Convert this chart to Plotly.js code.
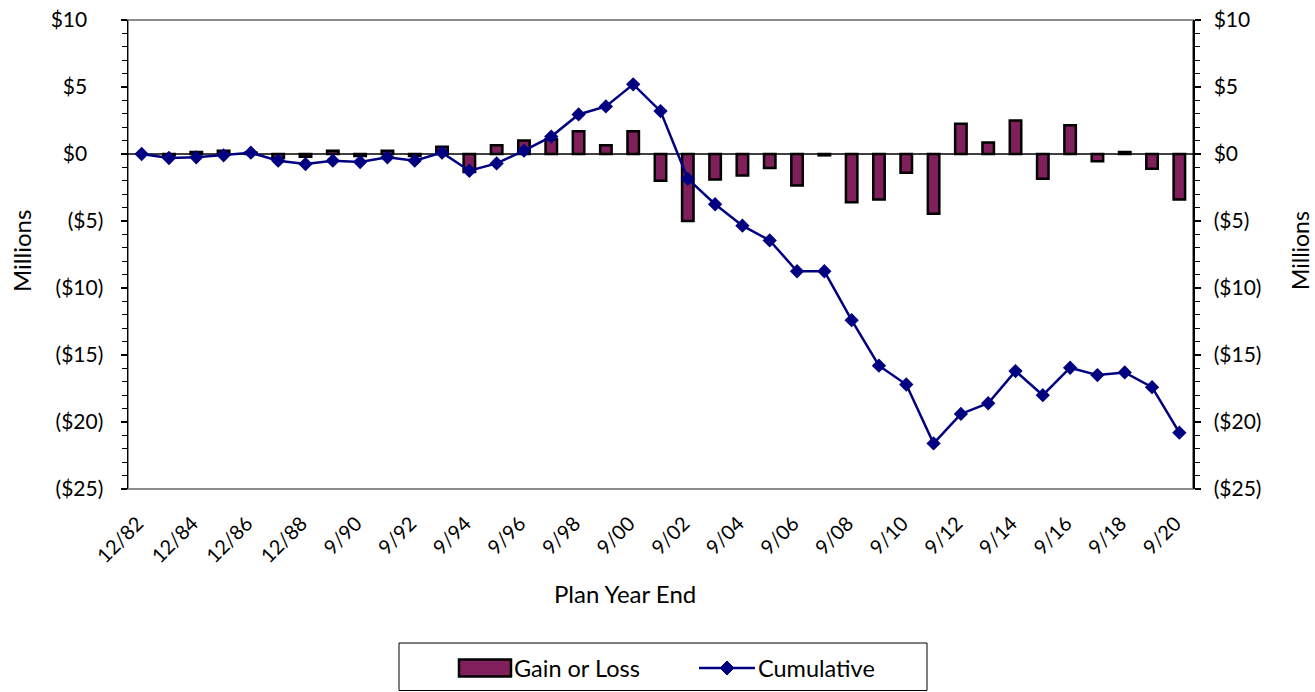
<!DOCTYPE html>
<html>
<head>
<meta charset="utf-8">
<script src="https://cdn.plot.ly/plotly-3.0.1.min.js"></script>
<style>
  html, body { margin: 0; padding: 0; background: #fff; }
  #chart { width: 1315px; height: 692px; }
</style>
</head>
<body>
<div id="chart"></div>
<script>
// Plan year ends
const categories = [
  '12/82','12/83','12/84','12/85','12/86','12/87','12/88','12/89',
  '9/90','9/91','9/92','9/93','9/94','9/95','9/96','9/97','9/98','9/99',
  '9/00','9/01','9/02','9/03','9/04','9/05','9/06','9/07','9/08','9/09',
  '9/10','9/11','9/12','9/13','9/14','9/15','9/16','9/17','9/18','9/19','9/20'
];

// Annual gain or loss, $ millions
const gainLoss = [
  0, -0.1, 0.15, 0.25, 0.1, -0.3, -0.2, 0.25, -0.15, 0.25,
  -0.15, 0.55, -1.35, 0.65, 1.0, 1.1, 1.7, 0.65, 1.7, -2.0,
  -5.0, -1.9, -1.6, -1.05, -2.35, -0.1, -3.6, -3.4, -1.4, -4.45,
  2.25, 0.85, 2.5, -1.85, 2.15, -0.55, 0.15, -1.1, -3.4
];

// Cumulative gain or loss, $ millions
const cumulative = [
  0, -0.3, -0.25, -0.1, 0.1, -0.5, -0.75, -0.5, -0.6, -0.25,
  -0.5, 0.1, -1.25, -0.7, 0.25, 1.3, 2.95, 3.55, 5.2, 3.2,
  -1.85, -3.75, -5.35, -6.45, -8.75, -8.75, -12.4, -15.8, -17.2, -21.6,
  -19.4, -18.6, -16.2, -18.0, -15.95, -16.5, -16.3, -17.4, -20.8
];

// Value axis ticks (accounting style: positives padded on the right)
const PAD = '\u00a0\u00a0\u00a0';
const yTickVals = [10, 5, 0, -5, -10, -15, -20, -25];
const yTickText = ['$10' + PAD, '$5' + PAD, '$0' + PAD, '($5)', '($10)', '($15)', '($20)', '($25)'];

// Every other plan year gets a label
const xTickVals = categories.filter((c, i) => i % 2 === 0);

const FONT = 'Lato, Carlito, "Open Sans", sans-serif';
const BAR_FILL = '#7F1F5B';
const LINE_COLOR = '#000080';

// plot area in page pixels, used to place the legend box and titles
const PLOT = { left: 128, right: 1193, top: 20, bottom: 489 };
const px = x => (x - PLOT.left) / (PLOT.right - PLOT.left);
const py = y => (PLOT.bottom - y) / (PLOT.bottom - PLOT.top);

const traces = [
  {
    type: 'bar',
    name: 'Gain or Loss',
    x: categories,
    y: gainLoss,
    width: 0.42,
    marker: { color: BAR_FILL, line: { color: '#000000', width: 2.5 } },
    yaxis: 'y'
  },
  {
    type: 'scatter',
    mode: 'lines+markers',
    name: 'Cumulative',
    x: categories,
    y: cumulative,
    line: { color: LINE_COLOR, width: 2.5 },
    marker: { symbol: 'diamond', size: 11, color: LINE_COLOR },
    yaxis: 'y'
  },
  // an empty trace anchors the right-hand axis
  { type: 'scatter', x: [categories[0]], y: [null], yaxis: 'y2', hoverinfo: 'skip' }
];

const yCommon = {
  range: [-25, 10],
  tickmode: 'array',
  tickvals: yTickVals,
  ticktext: yTickText,
  ticks: 'outside',
  ticklen: 6,
  tickwidth: 1.5,
  tickcolor: '#000',
  showline: true,
  linecolor: '#000',
  linewidth: 1.5,
  showgrid: false,
  zeroline: false,
  tickfont: { family: FONT, size: 21, color: '#000' },
  minor: { dtick: 1, ticks: 'outside', ticklen: 5, tickwidth: 1.2, tickcolor: '#000' },
  fixedrange: true
};

// diamond legend marker centred on (cx, cy) in page pixels
function diamondPath(cx, cy, r) {
  return 'M' + px(cx) + ',' + py(cy - r) +
         ' L' + px(cx + r) + ',' + py(cy) +
         ' L' + px(cx) + ',' + py(cy + r) +
         ' L' + px(cx - r) + ',' + py(cy) + ' Z';
}

const LEGEND_Y = 668;

const layout = {
  width: 1315,
  height: 692,
  margin: { l: 128, r: 122, t: 20, b: 203 },
  paper_bgcolor: '#ffffff',
  plot_bgcolor: '#ffffff',
  font: { family: FONT, size: 20, color: '#000' },
  showlegend: false,
  xaxis: {
    type: 'category',
    range: [-0.5, categories.length - 0.5],
    tickmode: 'array',
    tickvals: xTickVals,
    ticktext: xTickVals,
    tickangle: -45,
    ticks: 'outside',
    ticklen: 14,
    tickcolor: 'rgba(0,0,0,0)',
    ticklabelshift: -4,
    showline: false,
    showgrid: false,
    zeroline: false,
    tickfont: { family: FONT, size: 20, color: '#000' },
    fixedrange: true
  },
  yaxis: Object.assign({}, yCommon, { side: 'left', ticklabelstandoff: 13 }),
  yaxis2: Object.assign({}, yCommon, { side: 'right', overlaying: 'y', ticklabelstandoff: 9 }),
  shapes: [
    // grey plot frame
    { type: 'rect', xref: 'paper', yref: 'paper', x0: 0, x1: 1, y0: 0, y1: 1,
      line: { color: '#8c8c8c', width: 2 }, layer: 'below' },
    // category axis at zero
    { type: 'line', xref: 'paper', yref: 'y', x0: 0, x1: 1, y0: 0, y1: 0,
      line: { color: '#000', width: 1.5 }, layer: 'below' },
    // legend box
    { type: 'rect', xref: 'paper', yref: 'paper', x0: px(399), x1: px(927), y0: py(643), y1: py(690.5),
      line: { color: '#000', width: 1 }, fillcolor: '#fff' },
    // legend: bar swatch
    { type: 'rect', xref: 'paper', yref: 'paper', x0: px(459), x1: px(511), y0: py(659.5), y1: py(676.5),
      line: { color: '#000', width: 2.5 }, fillcolor: BAR_FILL },
    // legend: line swatch
    { type: 'line', xref: 'paper', yref: 'paper', x0: px(699), x1: px(755), y0: py(LEGEND_Y), y1: py(LEGEND_Y),
      line: { color: LINE_COLOR, width: 2.5 } },
    { type: 'path', xref: 'paper', yref: 'paper', path: diamondPath(727, LEGEND_Y, 7),
      line: { color: LINE_COLOR, width: 1 }, fillcolor: LINE_COLOR }
  ],
  annotations: [
    { text: 'Plan Year End', xref: 'paper', yref: 'paper', x: px(625), y: py(593),
      xanchor: 'center', yanchor: 'middle', showarrow: false,
      font: { family: FONT, size: 24, color: '#000' } },
    { text: 'Millions', xref: 'paper', yref: 'paper', x: px(21), y: py(251), textangle: -90,
      xanchor: 'center', yanchor: 'middle', showarrow: false,
      font: { family: FONT, size: 24, color: '#000' } },
    { text: 'Millions', xref: 'paper', yref: 'paper', x: px(1300), y: py(251), textangle: -90,
      xanchor: 'center', yanchor: 'middle', showarrow: false,
      font: { family: FONT, size: 23, color: '#000' } },
    { text: 'Gain or Loss', xref: 'paper', yref: 'paper', x: px(512), y: py(LEGEND_Y),
      xanchor: 'left', yanchor: 'middle', showarrow: false,
      font: { family: FONT, size: 23.5, color: '#000' } },
    { text: 'Cumulative', xref: 'paper', yref: 'paper', x: px(756), y: py(LEGEND_Y),
      xanchor: 'left', yanchor: 'middle', showarrow: false,
      font: { family: FONT, size: 23.5, color: '#000' } }
  ]
};

Plotly.newPlot('chart', traces, layout, { displayModeBar: false, staticPlot: true });
</script>
</body>
</html>
